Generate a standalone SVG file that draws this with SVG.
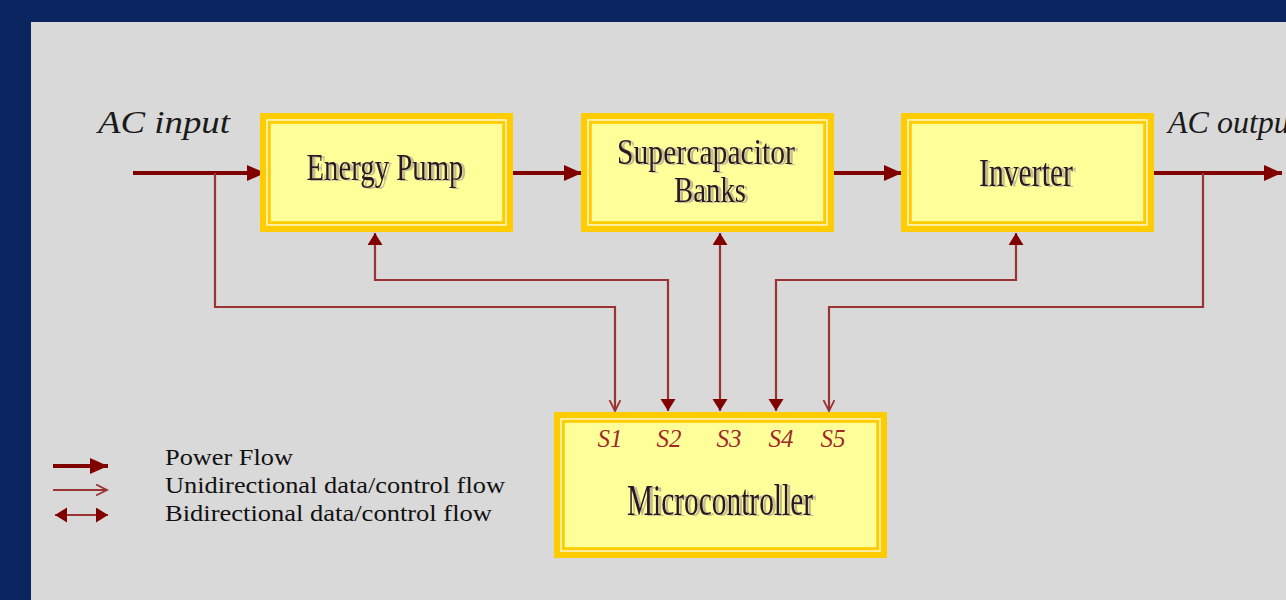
<svg xmlns="http://www.w3.org/2000/svg" width="1286" height="600" viewBox="0 0 1286 600">
  <style>
    .frame { fill: #ffcc00; }
    .rule { fill: none; stroke: #fff6c8; stroke-width: 1.6; }
    .face { fill: #ffff99; stroke: #ffcc00; stroke-width: 1.6; }
    .label { font-family: "Liberation Serif", "Times New Roman", serif; fill: #2e1626; filter: url(#ghost); }
    .io { font-family: "Liberation Serif", "Times New Roman", serif; font-style: italic; font-size: 32px; fill: #1a1a1a; }
    .sig { font-family: "Liberation Serif", "Times New Roman", serif; font-style: italic; font-size: 25px; fill: #a02a2a; }
    .key { font-family: "Liberation Serif", "Times New Roman", serif; font-size: 23px; fill: #111111; }
    .power { fill: none; stroke: #800000; stroke-width: 4; }
    .data { fill: none; stroke: #9a3434; stroke-width: 2.2; stroke-linejoin: miter; }
  </style>
  <defs>
    <filter id="ghost" x="-10%" y="-20%" width="130%" height="150%">
      <feDropShadow dx="3" dy="1" stdDeviation="0.6" flood-color="#8a8a8a" flood-opacity="0.55"/>
    </filter>
    <marker id="head-power" markerUnits="userSpaceOnUse" markerWidth="20" markerHeight="18" refX="18" refY="8" orient="auto">
      <path d="M0,0 L18,8 L0,16 Z" fill="#800000"/>
    </marker>
    <marker id="head-fill" markerUnits="userSpaceOnUse" markerWidth="16" markerHeight="16" refX="12" refY="7.5" orient="auto-start-reverse">
      <path d="M0,0 L12,7.5 L0,15 Z" fill="#800000"/>
    </marker>
    <marker id="head-open" markerUnits="userSpaceOnUse" markerWidth="14" markerHeight="14" refX="11" refY="6" orient="auto">
      <path d="M0,0.5 L11,6 L0,11.5" fill="none" stroke="#9a3434" stroke-width="1.8"/>
    </marker>
  </defs>

  <!-- backdrop -->
  <rect x="0" y="0" width="1286" height="600" fill="#0b2560"/>
  <rect x="31" y="22" width="1255" height="578" fill="#d9d9d9"/>

  <!-- connectors -->
  <g id="connectors">
    <!-- power path -->
    <line class="power" x1="133" y1="173" x2="265" y2="173" marker-end="url(#head-power)"/>
    <line class="power" x1="513" y1="173" x2="582" y2="173" marker-end="url(#head-power)"/>
    <line class="power" x1="834" y1="173" x2="902" y2="173" marker-end="url(#head-power)"/>
    <line class="power" x1="1154" y1="173" x2="1282" y2="173" marker-end="url(#head-power)"/>
    <!-- S1: input sense -->
    <polyline class="data" points="215,173 215,307 615,307 615,411" marker-end="url(#head-open)"/>
    <!-- S2: energy pump control -->
    <polyline class="data" points="375,233 375,280 668,280 668,411" marker-start="url(#head-fill)" marker-end="url(#head-fill)"/>
    <!-- S3: supercapacitor banks -->
    <line class="data" x1="720" y1="233" x2="720" y2="411" marker-start="url(#head-fill)" marker-end="url(#head-fill)"/>
    <!-- S4: inverter control -->
    <polyline class="data" points="1016,233 1016,280 776,280 776,411" marker-start="url(#head-fill)" marker-end="url(#head-fill)"/>
    <!-- S5: output sense -->
    <polyline class="data" points="1203,173 1203,307 829,307 829,411" marker-end="url(#head-open)"/>
  </g>

  <!-- Energy Pump -->
  <g id="energy-pump">
    <rect class="frame" x="260" y="113" width="253" height="119"/>
    <rect class="rule" x="267" y="120" width="239" height="105"/>
    <rect class="face" x="270" y="123" width="233" height="99"/>
    <text class="label" x="385" y="180" font-size="37" text-anchor="middle" textLength="157" lengthAdjust="spacingAndGlyphs">Energy Pump</text>
  </g>

  <!-- Supercapacitor Banks -->
  <g id="supercapacitor-banks">
    <rect class="frame" x="581" y="113" width="253" height="119"/>
    <rect class="rule" x="588" y="120" width="239" height="105"/>
    <rect class="face" x="591" y="123" width="233" height="99"/>
    <text class="label" x="706" y="164" font-size="36" text-anchor="middle" textLength="178" lengthAdjust="spacingAndGlyphs">Supercapacitor</text>
    <text class="label" x="710" y="202" font-size="36" text-anchor="middle" textLength="72" lengthAdjust="spacingAndGlyphs">Banks</text>
  </g>

  <!-- Inverter -->
  <g id="inverter">
    <rect class="frame" x="901" y="113" width="253" height="119"/>
    <rect class="rule" x="908" y="120" width="239" height="105"/>
    <rect class="face" x="911" y="123" width="233" height="99"/>
    <text class="label" x="1026" y="186" font-size="40" text-anchor="middle" textLength="94" lengthAdjust="spacingAndGlyphs">Inverter</text>
  </g>

  <!-- Microcontroller -->
  <g id="microcontroller">
    <rect class="frame" x="554" y="412" width="333" height="146"/>
    <rect class="rule" x="561" y="419" width="319" height="132"/>
    <rect class="face" x="564" y="422" width="313" height="126"/>
    <text class="sig" x="610" y="447" text-anchor="middle">S1</text>
    <text class="sig" x="669" y="447" text-anchor="middle">S2</text>
    <text class="sig" x="729" y="447" text-anchor="middle">S3</text>
    <text class="sig" x="781" y="447" text-anchor="middle">S4</text>
    <text class="sig" x="833" y="447" text-anchor="middle">S5</text>
    <text class="label" x="720" y="515" font-size="44" text-anchor="middle" textLength="186" lengthAdjust="spacingAndGlyphs">Microcontroller</text>
  </g>

  <!-- terminals -->
  <g id="ac-input">
    <text class="io" x="98" y="133" textLength="132" lengthAdjust="spacingAndGlyphs">AC input</text>
  </g>
  <g id="ac-output">
    <text class="io" x="1168" y="133">AC output</text>
  </g>

  <!-- legend -->
  <g id="legend">
    <line class="power" x1="53" y1="466" x2="108" y2="466" marker-end="url(#head-power)"/>
    <line class="data" x1="53" y1="490" x2="107" y2="490" marker-end="url(#head-open)"/>
    <line class="data" x1="55" y1="515" x2="108" y2="515" marker-start="url(#head-fill)" marker-end="url(#head-fill)"/>
    <text class="key" x="165" y="465" textLength="128" lengthAdjust="spacingAndGlyphs">Power Flow</text>
    <text class="key" x="165" y="493" textLength="340" lengthAdjust="spacingAndGlyphs">Unidirectional data/control flow</text>
    <text class="key" x="165" y="521" textLength="327" lengthAdjust="spacingAndGlyphs">Bidirectional data/control flow</text>
  </g>
</svg>
